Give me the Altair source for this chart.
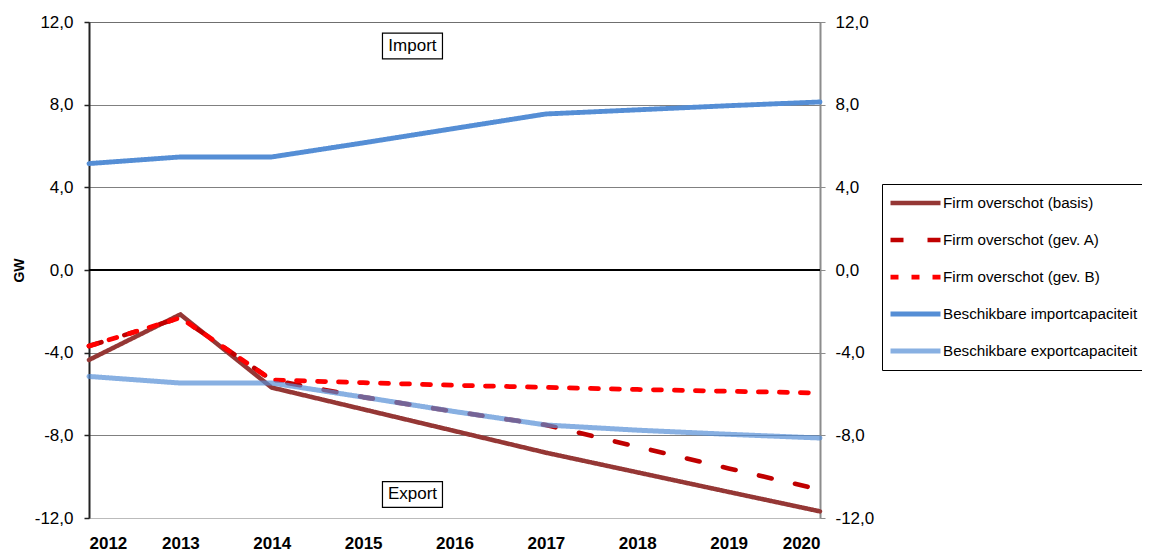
import altair as alt
import pandas as pd

years = [2012, 2013, 2014, 2015, 2016, 2017, 2018, 2019, 2020]
basis = [-4.35, -2.15, -5.69, -6.74, -7.79, -8.84, -9.79, -10.74, -11.68]
gev_a = [-3.68, -2.31, -5.32, -6.15, -6.85, -7.50, -8.55, -9.60, -10.63]
gev_b = [-3.68, -2.31, -5.32, -5.45, -5.58, -5.68, -5.78, -5.87, -5.95]
import_cap = [5.15, 5.47, 5.47, 6.15, 6.85, 7.55, 7.75, 7.95, 8.13]
export_cap = [-5.15, -5.47, -5.47, -6.15, -6.85, -7.50, -7.75, -7.95, -8.13]

series = [
    "Firm overschot (basis)",
    "Firm overschot (gev. A)",
    "Firm overschot (gev. B)",
    "Beschikbare importcapaciteit",
    "Beschikbare exportcapaciteit",
]
colors = ["#953735", "#C00000", "#FF0000", "#558ED5", "rgba(85,142,213,0.7)"]
dashes = [[1, 0], [13, 24], [8, 13], [1, 0], [1, 0]]
widths = [4.5, 5, 5, 7, 7]

ann_text = ["Import", "Export"]
ann_x = [2015.54, 2015.54]
ann_y = [10.84, -10.86]

rows = []
for name, vals in zip(series, [basis, gev_a, gev_b, import_cap, export_cap]):
    for yr, v in zip(years, vals):
        rows.append({"year": yr, "value": v, "series": name})
df = pd.DataFrame(rows)
ann = pd.DataFrame({"text": ann_text, "x": ann_x, "y": ann_y})

FONT = "Liberation Sans"
label_expr = "replace((datum.value < 0 ? '-' : '') + format(abs(datum.value), '.1f'), '.', ',')"
yvals = [-12, -8, -4, 0, 4, 8, 12]

xscale = alt.Scale(domain=[2012, 2020], nice=False, zero=False)
yscale = alt.Scale(domain=[-12, 12], nice=False)

x_axis = alt.Axis(
    values=years, format="d", labelFontWeight="bold", labelFontSize=17,
    labelFont=FONT, labelColor="black", domain=False, ticks=False, grid=False,
    labelPadding=17, title=None,
)

left_axis = alt.Axis(
    values=yvals, labelExpr=label_expr, grid=True, gridDash=[1, 1],
    gridColor=alt.condition("datum.value == -12", alt.value("#999999"), alt.value("black")),
    gridOpacity=1, gridWidth=1, domainColor="#222222", domainWidth=2,
    tickColor="#222222", tickSize=5, tickWidth=1.5, labelFontSize=17, labelFont=FONT,
    labelColor="black", labelPadding=11, title="GW", titleFontWeight="bold",
    titleFontSize=14, titleFont=FONT, titleColor="black", titlePadding=8,
)

legend = alt.Legend(
    title=None, orient="none", legendX=793, legendY=162, symbolType="stroke",
    symbolSize=2500, labelFontSize=15.2, labelFont=FONT, labelColor="black",
    strokeColor="black", padding=6, rowPadding=11, clipHeight=26, labelOffset=0,
    labelLimit=400, fillColor="white",
)

lines = alt.Chart(df).mark_line(strokeCap="round", strokeJoin="round").encode(
    x=alt.X("year:Q", scale=xscale, axis=x_axis),
    y=alt.Y("value:Q", scale=yscale, axis=left_axis),
    color=alt.Color("series:N", scale=alt.Scale(domain=series, range=colors), legend=legend),
    strokeDash=alt.StrokeDash("series:N", scale=alt.Scale(domain=series, range=dashes), legend=legend),
    strokeWidth=alt.StrokeWidth("series:N", scale=alt.Scale(domain=series, range=widths), legend=legend),
)

zero = alt.Chart(pd.DataFrame({"z": [0]})).mark_rule(color="black", strokeWidth=2).encode(
    y=alt.Y(
        "z:Q", scale=yscale,
        axis=alt.Axis(
            orient="right", values=yvals, labelExpr=label_expr, grid=False,
            domainColor="#8c8c8c", domainWidth=2, tickColor="#8c8c8c", tickSize=5,
            labelFontSize=17, labelFont=FONT, labelColor="black", labelPadding=10,
            title=None,
        ),
    ),
)

box_shape = "M-1,-0.43H1V0.43H-1Z"
boxes = alt.Chart(ann).mark_point(
    shape=box_shape, size=3600, filled=False, fill="white", fillOpacity=1,
    stroke="black", strokeWidth=1.2, opacity=1,
).encode(
    x=alt.X("x:Q", scale=xscale, axis=x_axis),
    y=alt.Y("y:Q", scale=yscale, axis=None),
)
texts = alt.Chart(ann).mark_text(fontSize=17, font=FONT, color="black", baseline="middle", align="center").encode(
    x=alt.X("x:Q", scale=xscale, axis=x_axis),
    y=alt.Y("y:Q", scale=yscale, axis=None),
    text="text:N",
)

chart = alt.layer(zero, lines, boxes, texts).resolve_axis(y="independent").properties(
    width=731, height=496,
    autosize=alt.AutoSizeParams(type="none"),
    padding={"left": 81, "top": 14, "right": 322, "bottom": 33},
    background="white",
).configure_view(stroke=None).configure(font=FONT)

chart.save("out.html", embed_options={"renderer": "svg", "actions": False})
